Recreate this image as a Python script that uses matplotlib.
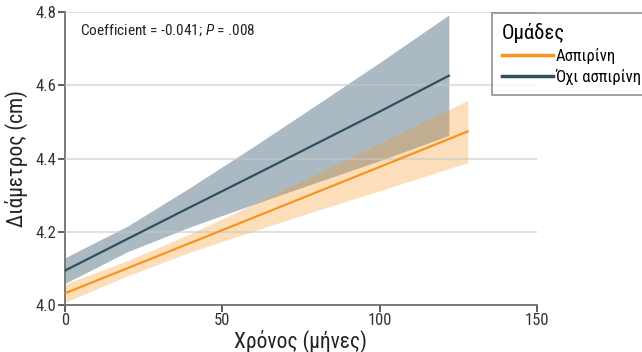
import matplotlib
matplotlib.use("Agg")
import matplotlib.pyplot as plt

plt.rcParams['font.family'] = ['Roboto Condensed', 'Lato', 'DejaVu Sans']
plt.rcParams['mathtext.fontset'] = 'custom'
plt.rcParams['mathtext.rm'] = 'Roboto Condensed'
plt.rcParams['mathtext.it'] = 'Roboto Condensed:italic'

# fitted lines with 95% bands
months_asp = [0, 20, 40, 60, 80, 100, 128]
fit_asp = [4.032, 4.101, 4.170, 4.239, 4.308, 4.377, 4.474]
low_asp = [4.007, 4.080, 4.145, 4.202, 4.258, 4.312, 4.389]
high_asp = [4.057, 4.122, 4.195, 4.276, 4.358, 4.442, 4.559]

months_no = [0, 20, 40, 60, 80, 100, 122]
fit_no = [4.094, 4.181, 4.268, 4.354, 4.441, 4.528, 4.626]
low_no = [4.059, 4.146, 4.214, 4.275, 4.335, 4.394, 4.463]
high_no = [4.129, 4.216, 4.322, 4.433, 4.547, 4.662, 4.792]

labels = ["Ασπιρίνη", "Όχι ασπιρίνη"]
orange = "#f7941d"
dark = "#2e5060"

fig = plt.figure(figsize=(6.42, 3.52), dpi=100)
ax = fig.add_axes([0.1012, 0.1335, 0.7352, 0.8324])

ax.fill_between(months_no, low_no, high_no, color="#2e5468", alpha=0.4, lw=0, zorder=1)
ax.fill_between(months_asp, low_asp, high_asp, color="#f7941d", alpha=0.3, lw=0, zorder=2)
for yv in [4.2, 4.4, 4.6, 4.8]:
    ax.axhline(yv, color="#c8c8c8", alpha=0.55, lw=1.5, zorder=3)
ax.plot(months_asp, fit_asp, color=orange, lw=1.6, zorder=4, label=labels[0])
ax.plot(months_no, fit_no, color=dark, lw=1.6, zorder=4, label=labels[1])

ax.set_xlim(0, 150)
ax.set_ylim(4.0, 4.8)
ax.set_xticks([0, 50, 100, 150])
ax.set_yticks([4.0, 4.2, 4.4, 4.6, 4.8])
ax.set_yticklabels(["4.0", "4.2", "4.4", "4.6", "4.8"])
for s in ["top", "right"]:
    ax.spines[s].set_visible(False)
for s in ["left", "bottom"]:
    ax.spines[s].set_color("#707070")
    ax.spines[s].set_linewidth(1.3)
ax.tick_params(colors="#333333", labelsize=12, length=5, width=1.1)
ax.tick_params(axis="y", pad=1.5)
ax.tick_params(axis="x", pad=1)

ax.set_xlabel("Χρόνος (μήνες)", fontsize=15.5, color="#222222", labelpad=1)
ax.set_ylabel("Διάμετρος (cm)", fontsize=15.5, color="#222222", labelpad=5)

ax.text(0.031, 0.965, "Coefficient = -0.041; $P$ = .008", transform=ax.transAxes,
        fontsize=11, color="#222222", va="top", ha="left")

leg = fig.legend(loc="upper left", bbox_to_anchor=(0.766, 0.963), title="Ομάδες",
                 fontsize=12, title_fontsize=15, frameon=True, fancybox=False,
                 handlelength=3.1, handletextpad=0.12, borderpad=0.6,
                 borderaxespad=0, labelspacing=0.3, alignment="left")
leg.get_frame().set_edgecolor("#808080")
leg.get_frame().set_linewidth(1.3)
for h in leg.get_lines():
    h.set_linewidth(2.5)

fig.savefig("out.png", dpi=100)
